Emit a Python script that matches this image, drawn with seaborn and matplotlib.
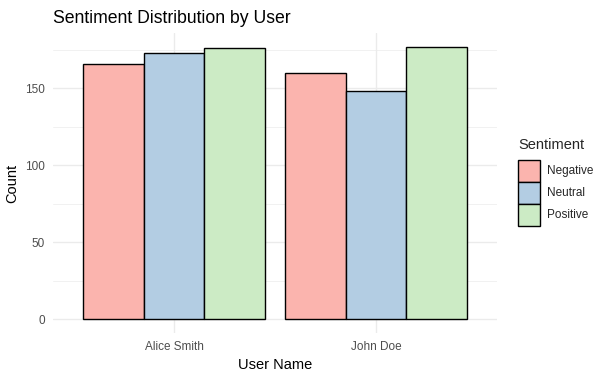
import matplotlib
matplotlib.use("Agg")
import matplotlib.pyplot as plt
import matplotlib.patches as mpatches
import seaborn as sns
import pandas as pd

# values
users = ["Alice Smith", "John Doe"]
sentiments = ["Negative", "Neutral", "Positive"]
negative = [166, 160]
neutral = [173, 148]
positive = [176, 177]
colors = ["#FBB4AE", "#B3CDE3", "#CCEBC5"]

rows = []
for s, vals in zip(sentiments, [negative, neutral, positive]):
    for u, v in zip(users, vals):
        rows.append({"User Name": u, "Sentiment": s, "Count": v})
df = pd.DataFrame(rows)

sns.set_theme(style="white")
plt.rcParams["font.family"] = ["Liberation Sans", "DejaVu Sans"]

W, H = 611, 377
fig = plt.figure(figsize=(W / 100, H / 100), dpi=100)
ax = fig.add_axes([53 / W, 1 - 333 / H, (497 - 53) / W, (333 - 33) / H])

sns.barplot(data=df, x="User Name", y="Count", hue="Sentiment",
            order=users, hue_order=sentiments, palette=colors, saturation=1,
            width=0.9, edgecolor="black", linewidth=1.0,
            errorbar=None, legend=False, ax=ax, zorder=2)

ymax = df["Count"].max()
ax.set_xlim(-0.6, 1.6)
ax.set_ylim(-0.05 * ymax, 1.05 * ymax)
ax.set_yticks([0, 50, 100, 150])
ax.set_yticks([25, 75, 125, 175], minor=True)

ax.set_axisbelow(True)
ax.grid(True, which="major", axis="both", color="#EBEBEB", linewidth=1.0)
ax.grid(True, which="minor", axis="y", color="#EBEBEB", linewidth=0.5)
for sp in ax.spines.values():
    sp.set_visible(False)
ax.tick_params(axis="both", which="both", length=0, labelsize=8.45,
               labelcolor="#4D4D4D")
ax.tick_params(axis="y", pad=5.8)
ax.tick_params(axis="x", pad=5.5)

ax.set_xlabel("User Name", fontsize=10.56, color="black", labelpad=4)
ax.set_ylabel("Count", fontsize=10.56, color="black", labelpad=4)
ax.set_title("Sentiment Distribution by User", fontsize=12.7, loc="left",
             color="black", pad=7)

# legend drawn in its own small axes, units = pixels from its top-left
lx0, ly0, lx1, ly1 = 510, 130, 611, 235
lax = fig.add_axes([lx0 / W, 1 - ly1 / H, (lx1 - lx0) / W, (ly1 - ly0) / H])
lax.set_xlim(0, lx1 - lx0)
lax.set_ylim(ly1 - ly0, 0)
lax.axis("off")
key = 22
lax.text(8, 15, "Sentiment", fontsize=10.56, va="center", ha="left")
for i, (lab, c) in enumerate(zip(sentiments, colors)):
    top = 30 + i * key
    lax.add_patch(mpatches.Rectangle((8, top), key, key, facecolor=c,
                                     edgecolor="black", linewidth=1.0))
    lax.text(8 + key + 7, top + key / 2, lab, fontsize=8.45,
             va="center", ha="left")

fig.savefig("out.png", dpi=100)
